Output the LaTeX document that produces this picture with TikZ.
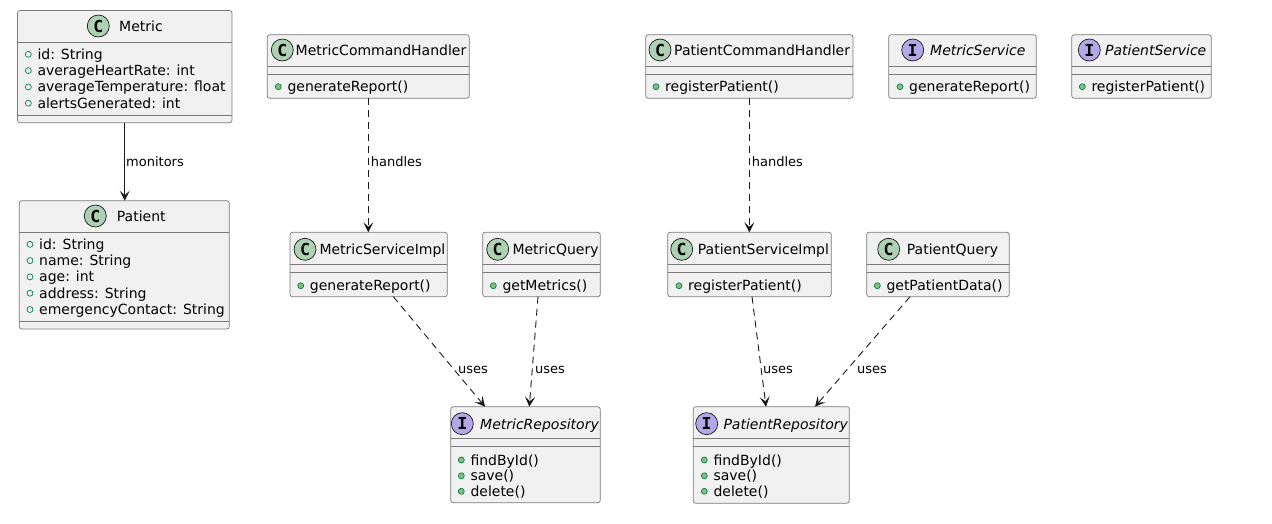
\documentclass[tikz,border=0pt]{standalone}
\usepackage{fontspec}
\setmainfont{DejaVu Sans}
\newfontfamily\iconfont{DejaVu Sans Mono}
\usetikzlibrary{arrows.meta}
\definecolor{boxfill}{HTML}{F1F1F1}
\definecolor{boxline}{HTML}{181818}
\definecolor{boxedge}{HTML}{7A7A7A}
\definecolor{classic}{HTML}{ADD1B2}
\definecolor{ifaceic}{HTML}{B4A7E5}
\definecolor{visline}{HTML}{038048}
\definecolor{visfill}{HTML}{84BE84}
% name, x1, y1, x2, y2, sep1, sep2
\newcommand\umlbox[7]{%
  \node[box, minimum width={#4-#2}, minimum height={#5-#3}] (#1) at ({(#2+#4)/2},{(#3+#5)/2}) {};
  \draw[sepline] (#2,#6) -- (#4,#6);
  \draw[sepline] (#2,#7) -- (#4,#7);
}
% name, dot x, y, text
\newcommand\fieldrow[4]{%
  \node[fld] (#1d) at (#2,#3) {};
  \node[txt] (#1t) at ({#2+9},{#3+5}) {#4};
}
\newcommand\methodrow[4]{%
  \node[mth] (#1d) at (#2,#3) {};
  \node[txt] (#1t) at ({#2+9},{#3+5}) {#4};
}
\begin{document}
\begin{tikzpicture}[x=1pt,y=-1pt,
 box/.style={draw=boxedge,fill=boxfill,line width=0.7pt,rounded corners=2.5pt,inner sep=0,outer sep=0},
 sepline/.style={draw=boxedge,line width=0.7pt},
 icon/.style={circle,draw=boxline,line width=0.7pt,minimum size=22pt,inner sep=0,font=\iconfont\bfseries\fontsize{16.5}{16}\selectfont},
 cicon/.style={icon,fill=classic},
 iicon/.style={icon,fill=ifaceic},
 txt/.style={inner sep=0,anchor=base west,font=\fontsize{14}{16}\selectfont},
 ititle/.style={txt,font=\itshape\fontsize{14}{16}\selectfont},
 lbl/.style={inner sep=0,anchor=base west,font=\fontsize{13}{15}\selectfont},
 fld/.style={circle,draw=visline,line width=0.7pt,minimum size=6pt,inner sep=0},
 mth/.style={fld,fill=visfill},
 conn/.style={draw=boxline,line width=0.9pt,-{Stealth[length=10pt,width=10pt,inset=4.5pt]}},
 dep/.style={conn,dash pattern=on 7pt off 5pt},
]
\useasboundingbox (0,0) rectangle (1272,524);

% ---------- Metric ----------
\umlbox{metric}{17.5}{10.5}{232}{122.7}{42.3}{115}
\node[cicon] (metricic) at (98.3,26) {C};
\node[txt] (metricti) at (119,31.5) {Metric};
\fieldrow{metricfa}{28.3}{54.3}{id: String}
\fieldrow{metricfb}{28.3}{70.6}{averageHeartRate: int}
\fieldrow{metricfc}{28.3}{86.9}{averageTemperature: float}
\fieldrow{metricfd}{28.3}{103.2}{alertsGenerated: int}

% ---------- Patient ----------
\umlbox{patient}{19.3}{200.7}{229.3}{329}{232.7}{321}
\node[cicon] (patientic) at (95.3,216) {C};
\node[txt] (patientti) at (116.7,221.5) {Patient};
\fieldrow{patientfa}{30}{244.3}{id: String}
\fieldrow{patientfb}{30}{260.6}{name: String}
\fieldrow{patientfc}{30}{276.9}{age: int}
\fieldrow{patientfd}{30}{293.2}{address: String}
\fieldrow{patientfe}{30}{309.5}{emergencyContact: String}

% ---------- MetricCommandHandler ----------
\umlbox{mch}{267.3}{34.7}{469.3}{98.3}{66.7}{74.3}
\node[cicon] (mchic) at (282.3,50) {C};
\node[txt] (mchti) at (295.5,55.5) {MetricCommandHandler};
\methodrow{mchma}{278.3}{86.7}{generateReport()}

% ---------- MetricServiceImpl ----------
\umlbox{msi}{290}{232.3}{447.3}{296.7}{264.3}{272.3}
\node[cicon] (msiic) at (305,249.3) {C};
\node[txt] (msiti) at (319.3,254.8) {MetricServiceImpl};
\methodrow{msima}{300.7}{285.7}{generateReport()}

% ---------- MetricQuery ----------
\umlbox{mq}{482.7}{232.3}{600.3}{296.7}{264.3}{272.3}
\node[cicon] (mqic) at (497.7,249.3) {C};
\node[txt] (mqti) at (512.3,254.8) {MetricQuery};
\methodrow{mqma}{493.3}{285.7}{getMetrics()}

% ---------- MetricRepository ----------
\umlbox{mr}{450.7}{406.7}{600.3}{502.7}{438.3}{446}
\node[iicon] (mric) at (462.3,423.7) {I};
\node[ititle] (mrti) at (480,429.2) {MetricRepository};
\methodrow{mrma}{461.3}{460}{findById()}
\methodrow{mrmb}{461.3}{475.8}{save()}
\methodrow{mrmc}{461.3}{491.3}{delete()}

% ---------- PatientCommandHandler ----------
\umlbox{pch}{645.7}{34.7}{853}{98.3}{66.7}{74.3}
\node[cicon] (pchic) at (660,50) {C};
\node[txt] (pchti) at (674,55.5) {PatientCommandHandler};
\methodrow{pchma}{656}{86.7}{registerPatient()}

% ---------- MetricService ----------
\umlbox{ms}{888.7}{34.7}{1036.3}{98.3}{66.7}{74.3}
\node[iicon] (msic) at (912.7,50) {I};
\node[ititle] (msti) at (930,55.5) {MetricService};
\methodrow{msma}{900}{86.7}{generateReport()}

% ---------- PatientService ----------
\umlbox{ps}{1071.7}{34.7}{1211.3}{98.3}{66.7}{74.3}
\node[iicon] (psic) at (1089.3,50) {I};
\node[ititle] (psti) at (1105,55.5) {PatientService};
\methodrow{psma}{1082.3}{86.7}{registerPatient()}

% ---------- PatientServiceImpl ----------
\umlbox{psi}{667.7}{232.3}{831.3}{296.7}{264.3}{272.3}
\node[cicon] (psiic) at (681.7,249.3) {C};
\node[txt] (psiti) at (697.7,254.8) {PatientServiceImpl};
\methodrow{psima}{679}{285.7}{registerPatient()}

% ---------- PatientQuery ----------
\umlbox{pq}{866.7}{232.3}{1009.3}{296.7}{264.3}{272.3}
\node[cicon] (pqic) at (888.7,249.3) {C};
\node[txt] (pqti) at (906.7,254.8) {PatientQuery};
\methodrow{pqma}{877.3}{285.7}{getPatientData()}

% ---------- PatientRepository ----------
\umlbox{pr}{693.3}{406.7}{849.3}{503.3}{438.3}{446}
\node[iicon] (pric) at (706.7,423.7) {I};
\node[ititle] (prti) at (723.3,429.2) {PatientRepository};
\methodrow{prma}{704.3}{460}{findById()}
\methodrow{prmb}{704.3}{475.8}{save()}
\methodrow{prmc}{704.3}{491.3}{delete()}

% ---------- connectors ----------
\draw[conn] (metric.south) -- (metric.south |- patient.north);
\node[lbl] (lmon) at (126,166.2) {monitors};

\draw[dep] (mch.south) -- (mch.south |- msi.north);
\node[lbl] (lmh) at (370.7,166.2) {handles};

\draw[dep] (pch.south) -- (pch.south |- psi.north);
\node[lbl] (lph) at (751.7,166.2) {handles};

\draw[dep] ([xshift=24.7pt]msi.south) -- ([xshift=-40.5pt]mr.north);
\node[lbl] (lu1) at (458,373.5) {uses};

\draw[dep] ([xshift=-3.5pt]mq.south) -- ([xshift=3.8pt]mr.north);
\node[lbl] (lu2) at (535,373.5) {uses};

\draw[dep] ([xshift=2.5pt]psi.south) -- ([xshift=-5.3pt]pr.north);
\node[lbl] (lu3) at (763,373.5) {uses};

\draw[dep] ([xshift=-28pt]pq.south) -- ([xshift=43.7pt]pr.north);
\node[lbl] (lu4) at (857,373.5) {uses};
\end{tikzpicture}
\end{document}
